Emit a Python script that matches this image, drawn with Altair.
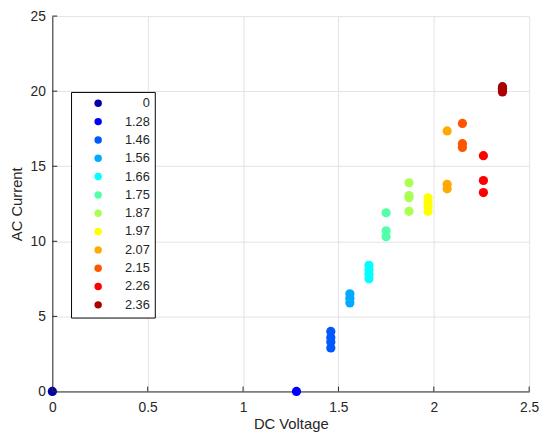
import altair as alt
import pandas as pd

# Legend categories (DC voltage) and colours
labels = ["0", "1.28", "1.46", "1.56", "1.66", "1.75", "1.87", "1.97", "2.07", "2.15", "2.26", "2.36"]
volts = [0.0, 1.28, 1.46, 1.56, 1.66, 1.75, 1.87, 1.97, 2.07, 2.15, 2.26, 2.36]
colors = ["#0000a8", "#0000ff", "#0059ff", "#00aaff", "#00ffff", "#55ffaa",
          "#aaff55", "#ffff00", "#ffaa00", "#ff5500", "#ff0000", "#aa0000"]

# AC current readings per voltage group
currents = [
    [0.0],
    [0.0],
    [4.0, 3.6, 3.3, 2.9],
    [6.5, 6.2, 5.9],
    [8.4, 8.1, 7.8, 7.5],
    [11.9, 10.7, 10.3],
    [13.9, 13.05, 12.9, 12.0],
    [12.9, 12.6, 12.3, 12.0],
    [17.35, 13.8, 13.5],
    [17.85, 16.5, 16.25],
    [15.7, 14.05, 13.25],
    [20.3, 20.2, 20.1, 19.95],
]

x_ticks = [0, 0.5, 1, 1.5, 2, 2.5]
y_ticks = [0, 5, 10, 15, 20, 25]

rows = []
for lab, v, ys in zip(labels, volts, currents):
    for y in ys:
        rows.append({"V": v, "I": y, "grp": lab})
df = pd.DataFrame(rows)

W, H = 484, 381
FONT = "Liberation Sans"
TXT = "#262626"

xscale = alt.Scale(domain=[0, 2.5], nice=False, zero=False)
yscale = alt.Scale(domain=[0, 25], nice=False, zero=False)

points = alt.Chart(df).mark_circle(size=88, opacity=1).encode(
    x=alt.X("V:Q", scale=xscale, title="DC Voltage",
            axis=alt.Axis(values=x_ticks, grid=True, ticks=False, tickSize=0,
                          labelPadding=9, labelFlush=False, labelOverlap=False,
                          titleY=38, titleBaseline="alphabetic", format="~g",
                          labelFont=FONT, titleFont=FONT, labelFontSize=14,
                          titleFontSize=15, titleFontWeight="normal",
                          labelColor=TXT, titleColor=TXT)),
    y=alt.Y("I:Q", scale=yscale, title="AC Current",
            axis=alt.Axis(values=y_ticks, grid=True, ticks=False, tickSize=0,
                          labelPadding=7, labelFlush=False, labelOverlap=False,
                          titleX=-31, titleY=H / 2, titleAlign="center",
                          titleBaseline="alphabetic", format="~g",
                          labelFont=FONT, titleFont=FONT, labelFontSize=14,
                          titleFontSize=15, titleFontWeight="normal",
                          labelColor=TXT, titleColor=TXT)),
    color=alt.Color("grp:N", sort=labels,
                    scale=alt.Scale(domain=labels, range=colors),
                    legend=alt.Legend(title=None, orient="none", legendX=19, legendY=77,
                                      symbolType="circle", symbolSize=57,
                                      symbolOffset=16, labelAlign="right",
                                      labelOffset=46, rowPadding=4.6, padding=5,
                                      strokeColor="black", fillColor="white",
                                      labelFont=FONT, labelFontSize=13,
                                      labelColor=TXT, symbolStrokeWidth=0,
                                      symbolOpacity=1)),
)

xt = alt.Chart(pd.DataFrame({"V": x_ticks})).mark_rule(color=TXT, strokeWidth=1).encode(
    x=alt.X("V:Q", scale=xscale), y=alt.value(H), y2=alt.value(H - 5))
yt = alt.Chart(pd.DataFrame({"I": y_ticks})).mark_rule(color=TXT, strokeWidth=1).encode(
    y=alt.Y("I:Q", scale=yscale), x=alt.value(0), x2=alt.value(5))

chart = alt.layer(points, xt, yt).properties(
    width=W, height=H,
    background="white",
    autosize=alt.AutoSizeParams(type="none"),
    padding={"left": 45, "top": 5, "right": 12, "bottom": 42},
).configure_view(stroke=None).configure_axis(
    domainColor=TXT, domainWidth=1, gridColor="#e3e3e3", gridWidth=1,
)

chart.save("out.html", embed_options={"renderer": "svg", "actions": False})
